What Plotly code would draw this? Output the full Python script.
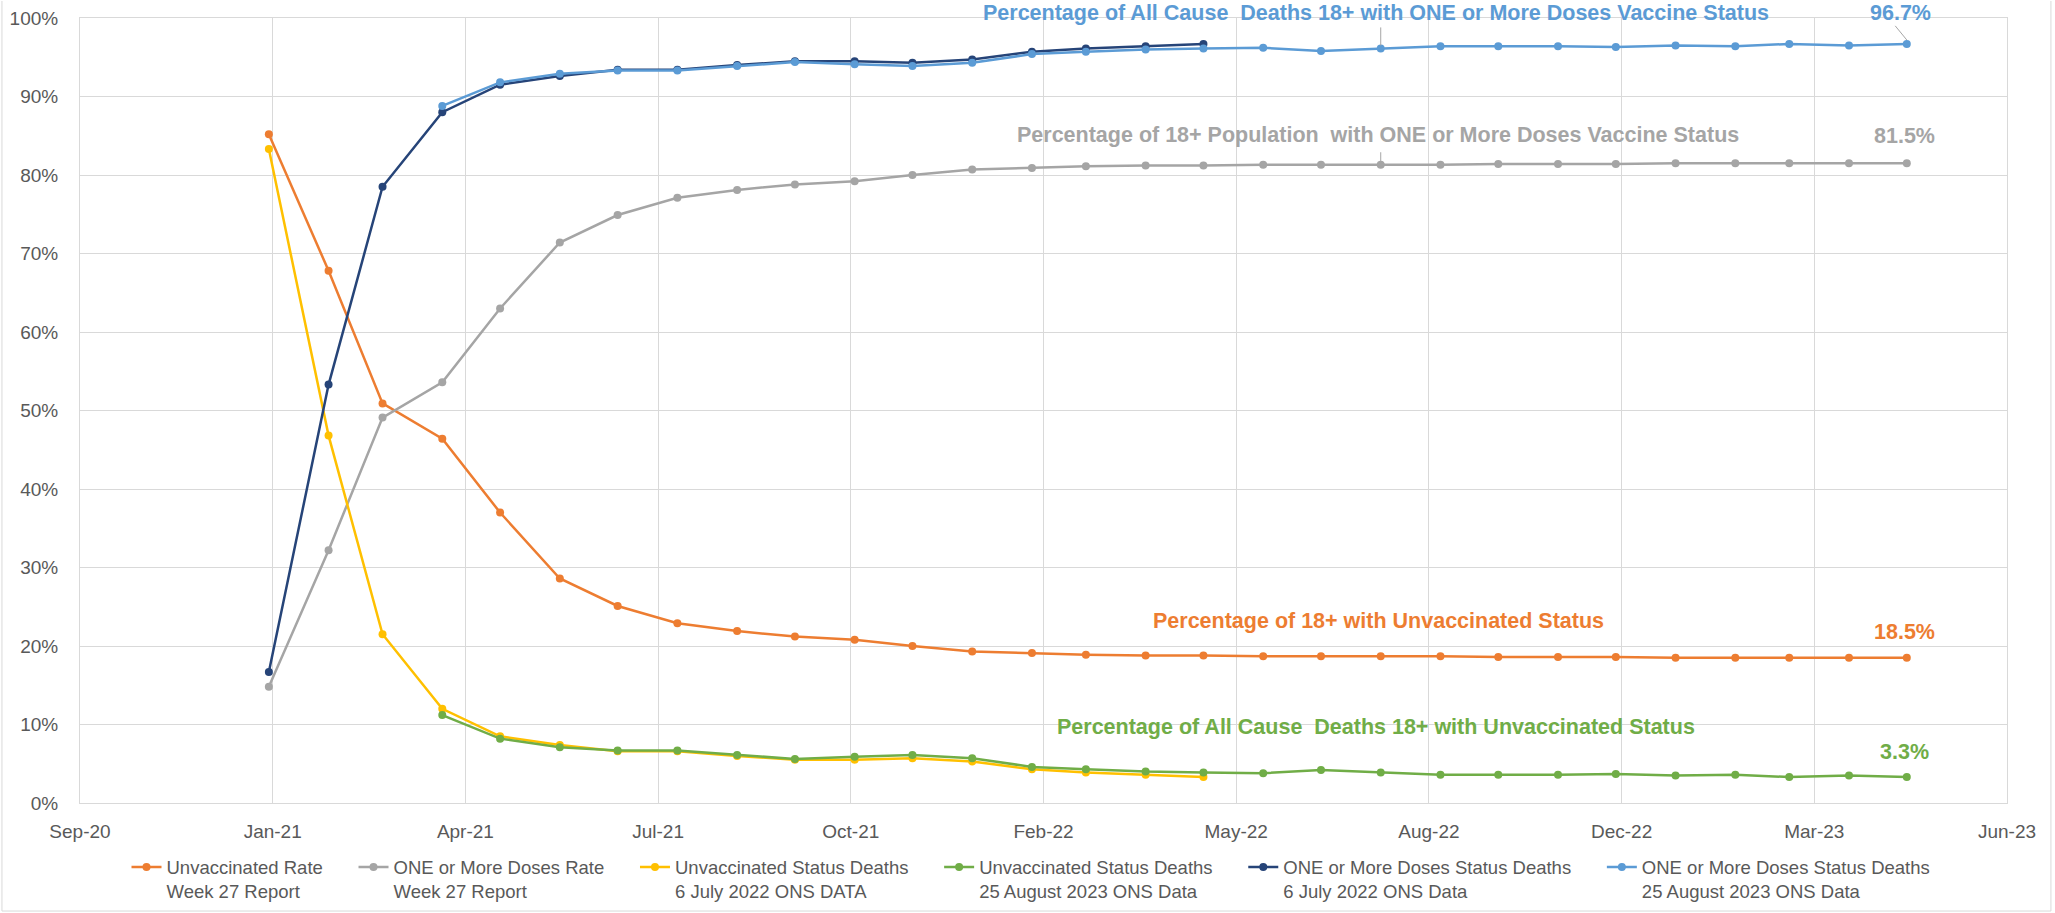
import plotly.graph_objects as go

# ---- data ----
months = ["2020-12-31", "2021-01-31", "2021-02-28", "2021-03-31", "2021-04-30", "2021-05-31",
          "2021-06-30", "2021-07-31", "2021-08-31", "2021-09-30", "2021-10-31", "2021-11-30",
          "2021-12-31", "2022-01-31", "2022-02-28", "2022-03-31", "2022-04-30", "2022-05-31",
          "2022-06-30", "2022-07-31", "2022-08-31", "2022-09-30", "2022-10-31", "2022-11-30",
          "2022-12-31", "2023-01-31", "2023-02-28", "2023-03-31", "2023-04-30"]

unvax_rate = [85.2, 67.8, 50.9, 46.4, 37.0, 28.6, 25.1, 22.9, 21.9, 21.2, 20.8, 20.0, 19.3,
              19.1, 18.9, 18.8, 18.8, 18.7, 18.7, 18.7, 18.7, 18.6, 18.6, 18.6, 18.5, 18.5,
              18.5, 18.5, 18.5]
dose_rate = [14.8, 32.2, 49.1, 53.6, 63.0, 71.4, 74.9, 77.1, 78.1, 78.8, 79.2, 80.0, 80.7,
             80.9, 81.1, 81.2, 81.2, 81.3, 81.3, 81.3, 81.3, 81.4, 81.4, 81.4, 81.5, 81.5,
             81.5, 81.5, 81.5]

# 6 July 2022 ONS data: Dec 2020 .. Apr 2022
unvax_deaths_2022 = [83.3, 46.8, 21.5, 12.0, 8.5, 7.4, 6.6, 6.6, 6.0, 5.5, 5.5, 5.7, 5.3,
                     4.3, 3.9, 3.6, 3.3]
dose_deaths_2022 = [16.7, 53.3, 78.5, 88.0, 91.5, 92.6, 93.4, 93.4, 94.0, 94.5, 94.5, 94.3,
                    94.7, 95.7, 96.1, 96.4, 96.7]

# 25 August 2023 ONS data: Mar 2021 .. Apr 2023
unvax_deaths_2023 = [11.2, 8.2, 7.1, 6.7, 6.7, 6.1, 5.6, 5.9, 6.1, 5.7, 4.6, 4.3, 4.0, 3.9,
                     3.8, 4.2, 3.9, 3.6, 3.6, 3.6, 3.7, 3.5, 3.6, 3.3, 3.5, 3.3]
dose_deaths_2023 = [88.8, 91.8, 92.9, 93.3, 93.3, 93.9, 94.4, 94.1, 93.9, 94.3, 95.4, 95.7,
                    96.0, 96.1, 96.2, 95.8, 96.1, 96.4, 96.4, 96.4, 96.3, 96.5, 96.4, 96.7,
                    96.5, 96.7]

tick_dates = ["2020-09-24", "2021-01-02", "2021-04-12", "2021-07-21", "2021-10-29",
              "2022-02-06", "2022-05-17", "2022-08-25", "2022-12-03", "2023-03-13", "2023-06-21"]
tick_labels = ["Sep-20", "Jan-21", "Apr-21", "Jul-21", "Oct-21", "Feb-22", "May-22",
               "Aug-22", "Dec-22", "Mar-23", "Jun-23"]
y_ticks = [0, 10, 20, 30, 40, 50, 60, 70, 80, 90, 100]
y_labels = [f"{v}%" for v in y_ticks]

legend_line1 = ["Unvaccinated Rate", "ONE or More Doses Rate", "Unvaccinated Status Deaths",
                "Unvaccinated Status Deaths", "ONE or More Doses Status Deaths",
                "ONE or More Doses Status Deaths"]
legend_line2 = ["Week 27 Report", "Week 27 Report", "6 July 2022 ONS DATA",
                "25 August 2023 ONS Data", "6 July 2022 ONS Data", "25 August 2023 ONS Data"]
colors = ["#ED7D31", "#A5A5A5", "#FFC000", "#70AD47", "#264478", "#5B9BD5"]
xs_list = [months, months, months[:17], months[3:], months[:17], months[3:]]
ys_list = [unvax_rate, dose_rate, unvax_deaths_2022, unvax_deaths_2023, dose_deaths_2022,
           dose_deaths_2023]

FONT = "Liberation Sans, Arial, sans-serif"
PAD = "\u00a0" * 5

fig = go.Figure()
for l1, l2, col, xs, ys in zip(legend_line1, legend_line2, colors, xs_list, ys_list):
    fig.add_trace(go.Scatter(
        x=xs, y=ys, name=f"{l1}{PAD}<br>{l2}{PAD}", mode="lines+markers",
        line=dict(color=col, width=2.5),
        marker=dict(color=col, size=8, symbol="circle"),
    ))

# (text, x paper, y paper, colour)
annots = [
    ("Percentage of All Cause \u00a0Deaths 18+ with ONE or More Doses Vaccine Status", 0.6726, 1.0064, "#5B9BD5"),
    ("96.7%", 0.9445, 1.0064, "#5B9BD5"),
    ("Percentage of 18+ Population \u00a0with ONE or More Doses Vaccine Status", 0.6736, 0.851, "#A5A5A5"),
    ("81.5%", 0.9466, 0.850, "#A5A5A5"),
    ("Percentage of 18+ with Unvaccinated Status", 0.6741, 0.232, "#ED7D31"),
    ("18.5%", 0.9466, 0.218, "#ED7D31"),
    ("Percentage of All Cause \u00a0Deaths 18+ with Unvaccinated Status", 0.6726, 0.097, "#70AD47"),
    ("3.3%", 0.9466, 0.065, "#70AD47"),
]
for txt, xp, yp, col in annots:
    fig.add_annotation(x=xp, xref="paper", y=yp, yref="paper", text=f"<b>{txt}</b>",
                       showarrow=False, font=dict(family=FONT, size=21.5, color=col),
                       xanchor="center", yanchor="middle")

# small leader lines (Excel data-label leaders)
fig.add_shape(type="line", xref="x", yref="y", x0="2023-04-24", y0=99.0, x1="2023-04-30", y1=97.2,
              line=dict(color="#A6A6A6", width=1))
fig.add_shape(type="line", xref="x", yref="y", x0="2022-07-31", y0=98.8, x1="2022-07-31", y1=96.5,
              line=dict(color="#A6A6A6", width=1))
fig.add_shape(type="line", xref="x", yref="y", x0="2022-07-31", y0=82.9, x1="2022-07-31", y1=81.7,
              line=dict(color="#A6A6A6", width=1))

# outer chart border (left, right and bottom edges)
fig.add_shape(type="line", xref="paper", yref="paper", x0=1.0228, y0=1.0217, x1=1.0228, y1=-0.1376,
              line=dict(color="#D9D9D9", width=1), layer="below")
fig.add_shape(type="line", xref="paper", yref="paper", x0=-0.0405, y0=-0.1376, x1=1.0228, y1=-0.1376,
              line=dict(color="#D9D9D9", width=1), layer="below")
fig.add_shape(type="line", xref="paper", yref="paper", x0=-0.0405, y0=1.0217, x1=-0.0405, y1=-0.1376,
              line=dict(color="#D9D9D9", width=1), layer="below")

fig.update_layout(
    width=2055, height=913,
    margin=dict(l=80, r=48, t=18, b=110, autoexpand=False),
    paper_bgcolor="white", plot_bgcolor="white",
    font=dict(family=FONT, size=19, color="#595959"),
    showlegend=True,
    legend=dict(orientation="h", x=0.5, xanchor="center", y=-0.058, yanchor="top",
                font=dict(family=FONT, size=18.5, color="#595959"), valign="top",
                itemwidth=30, tracegroupgap=0, bgcolor="rgba(0,0,0,0)"),
    xaxis=dict(type="date", range=[tick_dates[0], tick_dates[-1]], tickmode="array",
               tickvals=tick_dates, ticktext=tick_labels, showgrid=True, gridcolor="#D9D9D9",
               gridwidth=1, showline=True, linecolor="#D9D9D9", linewidth=1, mirror=True,
               zeroline=False, ticks="", ticklabelstandoff=11, automargin=False,
               tickfont=dict(family=FONT, size=19, color="#595959")),
    yaxis=dict(range=[0, 100], tickmode="array", tickvals=y_ticks, ticktext=y_labels,
               showgrid=True, gridcolor="#D9D9D9", gridwidth=1, showline=True,
               linecolor="#D9D9D9", linewidth=1, mirror=True, zeroline=False, ticks="",
               ticklabelstandoff=17, automargin=False, ticklabeloverflow="allow",
               tickfont=dict(family=FONT, size=19, color="#595959")),
)

# remove the default page margin so the figure sits at the window's top-left corner
fig.write_html("out.html", config={"displayModeBar": False},
               post_script="document.body.style.margin='0';document.body.style.overflow='hidden';")
